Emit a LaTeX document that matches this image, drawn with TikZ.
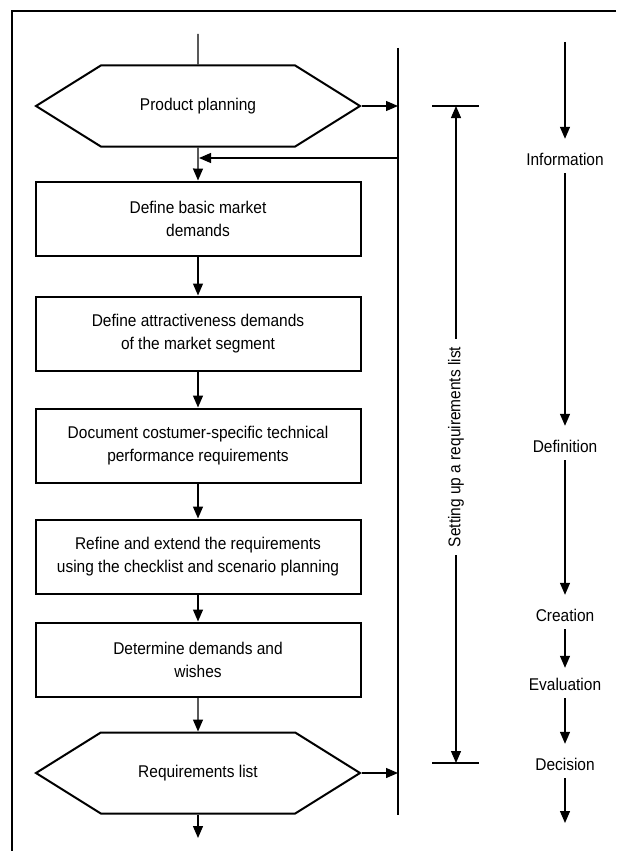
\documentclass[tikz,border=0pt]{standalone}
\usepackage{fontspec}
\setmainfont[FakeStretch=0.91]{Liberation Sans}
\usetikzlibrary{positioning, arrows.meta, shapes.symbols}
\tikzset{
>={Triangle[length=12pt,width=10pt]}, % solid black arrow heads
process/.style={draw, line width=2pt, minimum width=325pt, minimum height=74pt, align=center, inner sep=0pt},
terminal/.style={draw, line width=2pt, signal, signal to=west and east, signal pointer angle=64, minimum width=324pt, minimum height=81pt, inner sep=0pt},
phase/.style={inner xsep=2pt, inner ysep=0pt, minimum height=28pt},
flow/.style={->, line width=1.3pt},
frame/.style={line width=1.5pt},
}
\begin{document}
\begin{tikzpicture}[x=1pt, y=-1pt, font=\fontsize{17}{23}\selectfont]
    \useasboundingbox (0,0) rectangle (616,851);
    \draw[frame] (616,11) -- (12,11) -- (12,851);
    % main flow
    \node[terminal] (pp) at (198,106) {Product planning};
    \node[process, below=33pt of pp] (b1) {Define basic market\\demands};
    \node[process, below=39pt of b1] (b2) {Define attractiveness demands\\of the market segment};
    \node[process, below=36pt of b2] (b3) {Document costumer-specific technical\\performance requirements};
    \node[process, below=35pt of b3] (b4) {Refine and extend the requirements\\using the checklist and scenario planning};
    \node[process, below=27pt of b4] (b5) {Determine demands and\\wishes};
    \node[terminal, below=34pt of b5] (req) {Requirements list};
    \coordinate (in) at (198,34);
    \coordinate (out) at (198,838);
    \draw[line width=1.3pt] (in) -- (pp);
    \draw[flow] (pp) -- (b1);
    \draw[flow] (b1) -- (b2);
    \draw[flow] (b2) -- (b3);
    \draw[flow] (b3) -- (b4);
    \draw[flow] (b4) -- (b5);
    \draw[flow] (b5) -- (req);
    \draw[flow] (req) -- (out);
    % side line and feedback
    \coordinate (vtop) at (398,48);
    \coordinate (vbot) at (398,815);
    \coordinate (ret) at (398,158);
    \draw[line width=1.3pt] (vtop) -- (vbot);
    \draw[flow] (pp.east) -- (pp.east -| vtop);
    \draw[flow] (req.east) -- (req.east -| vtop);
    \draw[flow, shorten >=1pt] (ret) -- (ret -| pp);
    % requirements list bracket
    \coordinate (brtop) at (456,106);
    \coordinate (brbot) at (456,763);
    \draw[line width=1.5pt] ([xshift=-24pt]brtop) -- ([xshift=23pt]brtop);
    \draw[line width=1.5pt] ([xshift=-24pt]brbot) -- ([xshift=23pt]brbot);
    \draw[flow, <->] (brtop) -- (brbot);
    \node[rotate=90, fill=white, inner xsep=8pt, inner ysep=2pt] (setup) at (456,447) {Setting up a requirements list};
    % phases
    \coordinate (ptop) at (565,42);
    \coordinate (pbot) at (565,823);
    \node[phase] (info) at (565,159) {Information};
    \node[phase] (defn) at (565,446) {Definition};
    \node[phase] (crea) at (565,615) {Creation};
    \node[phase] (eval) at (565,684) {Evaluation};
    \node[phase] (deci) at (565,764) {Decision};
    \draw[flow, shorten >=6pt] (ptop) -- (info);
    \draw[flow, shorten >=6pt] (info) -- (defn);
    \draw[flow, shorten >=6pt] (defn) -- (crea);
    \draw[flow, shorten >=2pt] (crea) -- (eval);
    \draw[flow, shorten >=6pt] (eval) -- (deci);
    \draw[flow] (deci) -- (pbot);
\end{tikzpicture}
\end{document}
